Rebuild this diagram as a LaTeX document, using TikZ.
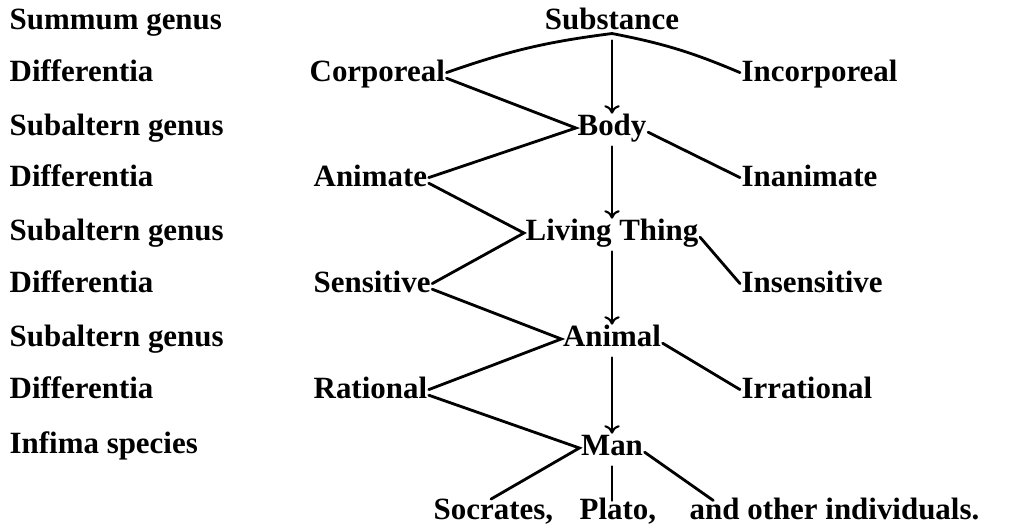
\documentclass[tikz,border=0pt]{standalone}
\usepackage{fontspec}
\setmainfont{Liberation Serif}
\usetikzlibrary{arrows.meta}

\begin{document}
\begin{tikzpicture}[
	% Style for every printed term
	term/.style={
		font=\bfseries\fontsize{22}{26}\selectfont,
		inner sep=1pt,
		text height=15pt,
		text depth=5pt
	},
	% Style for the plain connecting lines
	edge/.style={
		draw=black,
		line width=2pt,
		line cap=round
	},
	% Style for the downward arrows
	down/.style={
		edge,
		line width=1.8pt,
		-{To[length=6pt,width=11pt,line width=1.5pt]}
	}
	]
	\useasboundingbox (0,0) rectangle (25.325,-13.2);
	
	% 1. Level names (left column)
	\node[term, anchor=west] (n1) at (0.2, -0.55) {Summum genus};
	\node[term, anchor=west] (n2) at (0.2, -1.85) {Differentia};
	\node[term, anchor=west] (n3) at (0.2, -3.2) {Subaltern genus};
	\node[term, anchor=west] (n4) at (0.2, -4.475) {Differentia};
	\node[term, anchor=west] (n5) at (0.2, -5.825) {Subaltern genus};
	\node[term, anchor=west] (n6) at (0.2, -7.125) {Differentia};
	\node[term, anchor=west] (n7) at (0.2, -8.475) {Subaltern genus};
	\node[term, anchor=west] (n8) at (0.2, -9.775) {Differentia};
	\node[term, anchor=west] (n9) at (0.2, -11.15) {Infima species};
	
	% 2. Genera (middle column)
	\node[term] (subst) at (15.3, -0.55) {Substance};
	\node[term] (body) at (15.3, -3.2) {Body};
	\node[term] (living) at (15.3, -5.825) {Living Thing};
	\node[term] (animal) at (15.3, -8.475) {Animal};
	\node[term] (man) at (15.3, -11.2) {Man};
	
	% Differentiae (left and right)
	\node[term, anchor=west] (corp) at (7.7, -1.85) {Corporeal};
	\node[term, anchor=west] (incorp) at (18.5, -1.85) {Incorporeal};
	\node[term, anchor=west] (anim) at (7.8, -4.475) {Animate};
	\node[term, anchor=west] (inanim) at (18.5, -4.475) {Inanimate};
	\node[term, anchor=west] (sens) at (7.8, -7.125) {Sensitive};
	\node[term, anchor=west] (insens) at (18.5, -7.125) {Insensitive};
	\node[term, anchor=west] (rat) at (7.8, -9.775) {Rational};
	\node[term, anchor=west] (irrat) at (18.5, -9.775) {Irrational};
	
	% Individuals
	\node[term, anchor=west] (socr) at (10.8, -12.8) {Socrates,};
	\node[term, anchor=west] (plato) at (14.45, -12.8) {Plato,};
	\node[term, anchor=west] (others) at (17.2, -12.8) {and other individuals.};
	
	% 3. Draw Edges
	% Division of Substance
	\draw[edge] ([yshift=3pt]subst.south) to[bend right=6] ([yshift=1pt]corp.east);
	\draw[edge] ([yshift=3pt]subst.south) to[bend left=6] ([yshift=1pt]incorp.west);
	\draw[down] ([yshift=-2pt]subst.south) -- ([yshift=-1pt]body.north);
	
	% Corporeal to Body to Animate
	\draw[edge] ([yshift=-3pt]corp.east) -- (body.west) -- ([yshift=1pt]anim.east);
	\draw[edge] ([yshift=-3pt]body.east) -- ([yshift=1pt]inanim.west);
	\draw[down] ([yshift=-2pt]body.south) -- ([yshift=-1pt]living.north);
	
	% Animate to Living Thing to Sensitive
	\draw[edge] ([yshift=-3pt]anim.east) -- (living.west) -- ([yshift=1pt]sens.east);
	\draw[edge] ([yshift=-3pt]living.east) -- ([yshift=1pt]insens.west);
	\draw[down] ([yshift=-2pt]living.south) -- ([yshift=-1pt]animal.north);
	
	% Sensitive to Animal to Rational
	\draw[edge] ([yshift=-3pt]sens.east) -- (animal.west) -- ([yshift=1pt]rat.east);
	\draw[edge] ([yshift=-3pt]animal.east) -- ([yshift=1pt]irrat.west);
	\draw[down] ([yshift=-2pt]animal.south) -- ([yshift=-1pt]man.north);
	
	% Rational to Man to the individuals
	\draw[edge] ([yshift=-3pt]rat.east) -- (man.west) -- ([xshift=42pt,yshift=-2pt]socr.north west);
	\draw[edge] ([yshift=-2pt]man.south) -- ([yshift=-3pt]man.south |- plato.north);
	\draw[edge] ([yshift=-3pt]man.east) -- ([xshift=18pt,yshift=-3pt]others.north west);
	
\end{tikzpicture}
\end{document}
